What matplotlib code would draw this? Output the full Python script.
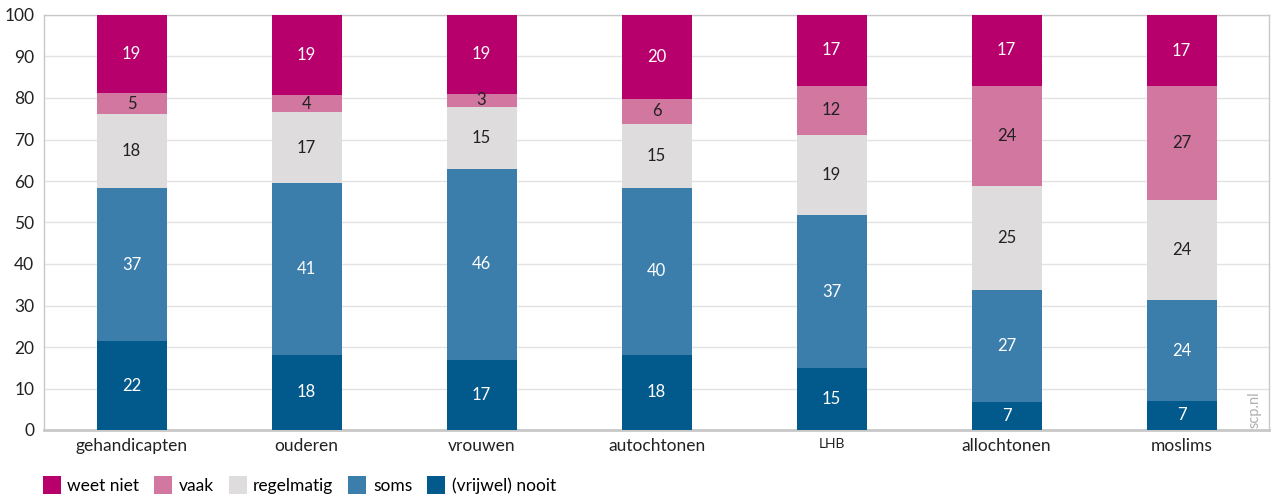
import matplotlib
matplotlib.use("Agg")
import matplotlib.pyplot as plt
from matplotlib.patches import Patch
import numpy as np

plt.rcParams['font.family'] = ['Lato', 'DejaVu Sans']

categories = ["gehandicapten", "ouderen", "vrouwen", "autochtonen", "LHB", "allochtonen", "moslims"]
nooit = [21.4, 18.1, 16.9, 18.1, 14.9, 6.7, 7.0]
soms = [36.9, 41.4, 46.0, 40.2, 36.9, 27.0, 24.3]
regelmatig = [17.8, 17.1, 14.9, 15.4, 19.3, 25.1, 24.1]
vaak = [5.1, 4.1, 3.2, 6.1, 11.8, 24.1, 27.4]
weet_niet = [18.8, 19.3, 19.0, 20.2, 17.1, 17.1, 17.2]
labels_nooit = [22, 18, 17, 18, 15, 7, 7]
labels_soms = [37, 41, 46, 40, 37, 27, 24]
labels_regelmatig = [18, 17, 15, 15, 19, 25, 24]
labels_vaak = [5, 4, 3, 6, 12, 24, 27]
labels_weet_niet = [19, 19, 19, 20, 17, 17, 17]

series = [
    ("(vrijwel) nooit", nooit, labels_nooit, "#02598C", "white"),
    ("soms", soms, labels_soms, "#3B7DAB", "white"),
    ("regelmatig", regelmatig, labels_regelmatig, "#DEDCDD", "#222222"),
    ("vaak", vaak, labels_vaak, "#D277A0", "#222222"),
    ("weet niet", weet_niet, labels_weet_niet, "#B8006C", "white"),
]

fig = plt.figure(figsize=(12.71, 4.95), dpi=100)
ax = fig.add_axes([44/1271, 65/495, 1225/1271, 415/495])

x = np.arange(len(categories))
bottom = np.zeros(len(categories))
for name, vals, labs, col, tcol in series:
    vals = np.array(vals)
    ax.bar(x, vals, 0.4, bottom=bottom, color=col, zorder=3)
    for xi, b, v, l in zip(x, bottom, vals, labs):
        ax.text(xi, b + v / 2, str(l), ha='center', va='center', color=tcol,
                fontsize=12, zorder=4)
    bottom = bottom + vals

ax.set_xlim(-0.5, len(categories) - 0.5)
ax.set_ylim(0, 100)
ax.set_yticks(range(0, 101, 10))
ax.set_xticks(x)
ax.set_xticklabels(categories)
for lbl in ax.get_xticklabels():
    if lbl.get_text() == "LHB":
        lbl.set_fontsize(10)
    else:
        lbl.set_fontsize(12.5)
ax.tick_params(axis='y', labelsize=12.5, length=0, pad=7, colors='#222222')
ax.tick_params(axis='x', length=0, pad=6, colors='#222222')
ax.grid(axis='y', color='#E3E3E3', linewidth=1, zorder=0)
for s in ['left', 'right', 'top']:
    ax.spines[s].set_color('#C8C8C8')
    ax.spines[s].set_linewidth(1)
ax.spines['bottom'].set_color('#C8C8C8')
ax.spines['bottom'].set_linewidth(2)

ax.text(0.988, 0.05, "scp.nl", rotation=90, transform=ax.transAxes,
        ha='center', va='center', color='#B0B0B0', fontsize=10.5)

handles = [Patch(facecolor=c, edgecolor='none', label=n) for n, _, _, c, _ in reversed(series)]
fig.legend(handles=handles, loc='lower left', bbox_to_anchor=(27/1271, -15/495), ncol=5,
           frameon=False, fontsize=12.5, handlelength=1.04, handleheight=1.25,
           handletextpad=0.38, columnspacing=0.85)

fig.savefig("out.png", dpi=100)
